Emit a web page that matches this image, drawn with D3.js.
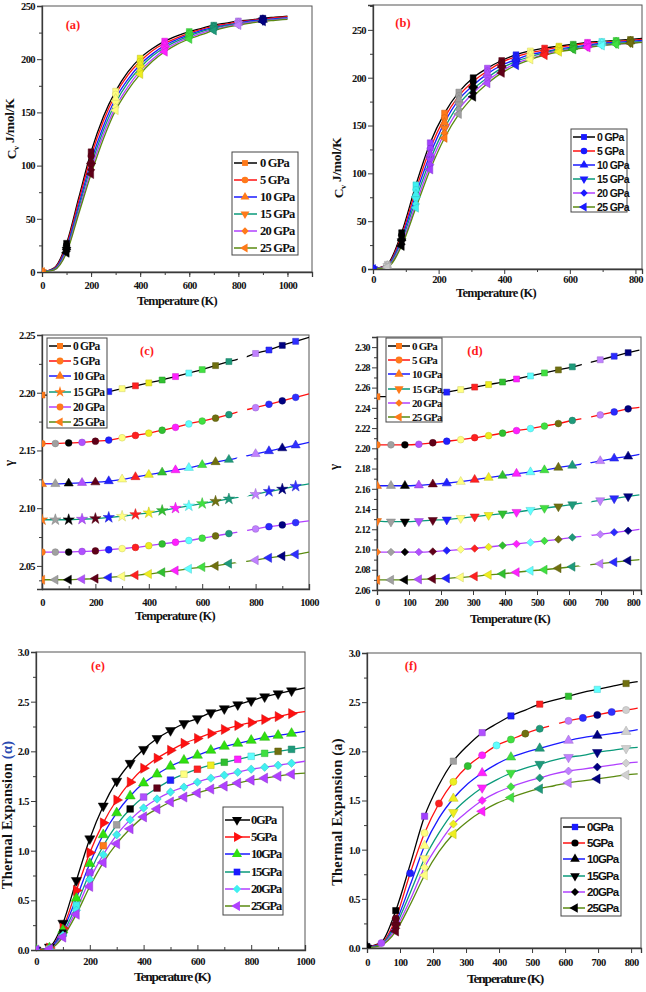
<!DOCTYPE html>
<html><head><meta charset="utf-8">
<script src="https://cdn.jsdelivr.net/npm/d3@7"></script>
<style>body{margin:0;background:#fff}svg{display:block}</style>
</head><body>
<script>
// ---------- DATA ----------
const pressures = ["0 GPa","5 GPa","10 GPa","15 GPa","20 GPa","25 GPa"];
const pressuresE = ["0GPa","5GPa","10GPa","15GPa","20GPa","25GPa"];
const lineColors = ["#000000","#ff1010","#1a1aff","#0a9a7a","#b040ff","#5a8a10"];
// Origin-style per-point colour increment list
const markerCycle = ["#1a1aff","#c8c8c8","#000000","#40f0f0","#a040ff","#ff7a1a","#a0a0a0","#000000",
  "#b050ff","#600018","#2020ff","#ffff80","#ff2020","#eeee20","#30c030","#ff20ff","#60ffff","#40e040",
  "#707010","#1e9a7a","#ffffff","#c080ff","#2a2aff","#000080","#3030ff","#d0d0d0"];

const tempA = [0,50,100,150,200,250,300,350,400,450,500,550,600,650,700,750,800,850,900,950,1000];
const cvA = [
  [0,4,27,70,113,146,170,188,201,210,217,222,226,229,232,234,236,237,238.5,239.5,240.5],
  [0,3.5,25,67,109,142,167,185,198,208,215,220,224.5,228,231,233,235,236.5,238,239,240],
  [0,3,23,63,104,137,163,181,195,205,213,218.5,223,227,230,232,234,236,237,238,239],
  [0,2.5,21,60,100,133,159,178,192,203,211,217,222,226,229,231.5,233.5,235,236.5,237.5,238.5],
  [0,2,19.5,57,96,129,155,174,189,200,209,215.5,220.5,224.5,228,230.5,233,234.5,236,237,238],
  [0,2,18,55,92,125,152,171,186,198,207,214,219,223,227,230,232,234,235.5,236.5,237.5]
];
const tempB = [0,43.6,87.2,130.8,174.4,218,261.6,305.2,348.8,392.4,436,479.6,523.2,566.8,610.4,654,697.6,741.2,784.8,820];
const cvB = [
  [0,5,38,88,132,163,185,200,210,218,224,228,231,233,235,237,238,239,240,241],
  [0,4,35,83,126,158,181,196,207,216,222,226,229,232,234,236,237,238,239,240],
  [0,3.5,32,78,120,153,177,192,204,213,219,224,227,230,232,234,236,237,238,239],
  [0,3,29,73,114,147,172,188,200,210,217,222,226,229,231,233,235,236,237,238],
  [0,2.5,26,68,109,142,167,184,197,207,215,220,224.5,228,230,232,234,235,236,237.5],
  [0,2,24,64,104,137,162,180,194,205,213,219,223.5,227,229.5,231.5,233.5,235,236,237]
];
const tempC = [0,50,100,150,200,250,300,350,400,450,500,550,600,650,700,750,800,850,900,950,1000];
const gammaC = [
  [2.198,2.198,2.198,2.199,2.1995,2.201,2.2035,2.206,2.2085,2.211,2.214,2.217,2.220,2.2235,2.227,2.230,2.234,2.237,2.241,2.2445,2.248],
  [2.156,2.156,2.1565,2.157,2.158,2.159,2.161,2.163,2.165,2.1675,2.170,2.173,2.1755,2.178,2.181,2.1845,2.187,2.190,2.193,2.196,2.199],
  [2.121,2.121,2.1215,2.122,2.1225,2.1235,2.125,2.127,2.129,2.131,2.133,2.135,2.1375,2.140,2.142,2.1445,2.147,2.1495,2.152,2.1545,2.157],
  [2.090,2.090,2.090,2.0905,2.091,2.092,2.093,2.0945,2.096,2.098,2.100,2.102,2.104,2.106,2.108,2.110,2.112,2.1145,2.1165,2.119,2.121],
  [2.062,2.062,2.062,2.0625,2.063,2.064,2.065,2.066,2.0675,2.069,2.0705,2.072,2.074,2.076,2.078,2.080,2.082,2.084,2.0855,2.0875,2.089],
  [2.038,2.038,2.038,2.0385,2.039,2.040,2.041,2.042,2.043,2.0445,2.046,2.0475,2.049,2.050,2.052,2.0535,2.055,2.057,2.0585,2.060,2.062]
];
const tempD = [0,43.6,87.2,130.8,174.4,218,261.6,305.2,348.8,392.4,436,479.6,523.2,566.8,610.4,654,697.6,741.2,784.8,820];
const gammaD = [
  [2.251,2.251,2.2515,2.252,2.253,2.2555,2.258,2.2605,2.263,2.2655,2.2685,2.2715,2.2745,2.2775,2.2805,2.284,2.2875,2.291,2.2945,2.297],
  [2.2035,2.2035,2.2035,2.204,2.2055,2.207,2.2085,2.2105,2.2125,2.215,2.2175,2.2195,2.222,2.2245,2.2275,2.230,2.233,2.236,2.239,2.2405],
  [2.163,2.163,2.163,2.1635,2.1645,2.1655,2.167,2.169,2.171,2.173,2.175,2.1765,2.1785,2.181,2.183,2.185,2.1875,2.190,2.192,2.194],
  [2.128,2.1275,2.1275,2.128,2.129,2.1295,2.131,2.1325,2.134,2.1355,2.137,2.139,2.141,2.1425,2.1445,2.1465,2.1485,2.1505,2.1525,2.154],
  [2.0975,2.0975,2.0975,2.0975,2.098,2.099,2.100,2.101,2.1025,2.104,2.1055,2.107,2.1085,2.110,2.112,2.1135,2.115,2.117,2.1185,2.120],
  [2.070,2.070,2.070,2.0705,2.071,2.0715,2.0725,2.0735,2.075,2.076,2.0775,2.079,2.080,2.0815,2.083,2.0845,2.086,2.0875,2.089,2.090]
];
const tempE = [0,50,100,150,200,250,300,350,400,450,500,550,600,650,700,750,800,850,900,950,1000];
const alphaE = [
  [0,0.03,0.27,0.70,1.12,1.45,1.70,1.88,2.02,2.13,2.21,2.28,2.33,2.39,2.43,2.47,2.51,2.55,2.58,2.61,2.64],
  [0,0.02,0.22,0.60,0.98,1.28,1.51,1.69,1.83,1.93,2.01,2.08,2.13,2.18,2.22,2.26,2.29,2.32,2.35,2.38,2.40],
  [0,0.02,0.20,0.52,0.87,1.16,1.38,1.55,1.68,1.77,1.85,1.91,1.96,2.01,2.05,2.08,2.11,2.14,2.16,2.18,2.20],
  [0,0.01,0.17,0.45,0.78,1.05,1.26,1.42,1.54,1.63,1.71,1.77,1.82,1.86,1.89,1.92,1.95,1.98,2.00,2.02,2.04],
  [0,0.01,0.15,0.40,0.71,0.96,1.16,1.31,1.43,1.52,1.59,1.64,1.69,1.73,1.76,1.79,1.82,1.84,1.86,1.88,1.90],
  [0,0.01,0.13,0.36,0.64,0.88,1.07,1.22,1.34,1.42,1.49,1.54,1.58,1.62,1.65,1.68,1.71,1.73,1.75,1.77,1.78]
];
const tempF = [0,43.6,87.2,130.8,174.4,218,261.6,305.2,348.8,392.4,436,479.6,523.2,566.8,610.4,654,697.6,741.2,784.8,820];
const alphaF = [
  [0.01,0.06,0.38,0.85,1.34,1.66,1.90,2.06,2.19,2.28,2.36,2.42,2.48,2.52,2.56,2.60,2.63,2.66,2.69,2.71],
  [0.01,0.05,0.30,0.76,1.17,1.47,1.69,1.85,1.96,2.06,2.12,2.18,2.23,2.27,2.31,2.34,2.37,2.40,2.42,2.44],
  [0.01,0.04,0.26,0.64,1.04,1.32,1.52,1.67,1.78,1.87,1.94,1.99,2.03,2.07,2.11,2.14,2.16,2.18,2.20,2.22],
  [0,0.04,0.23,0.56,0.91,1.17,1.38,1.52,1.63,1.71,1.78,1.83,1.87,1.91,1.94,1.96,1.99,2.01,2.03,2.04],
  [0,0.03,0.20,0.49,0.82,1.06,1.26,1.39,1.50,1.58,1.64,1.69,1.73,1.77,1.80,1.82,1.84,1.86,1.88,1.89],
  [0,0.03,0.17,0.44,0.74,0.98,1.16,1.29,1.39,1.47,1.53,1.58,1.62,1.65,1.68,1.70,1.72,1.74,1.76,1.77]
];

// ---------- DRAWING ----------
const W = 646, H = 992;
const svg = d3.select("body").append("svg").attr("width", W).attr("height", H);
const SERIF = "'Liberation Serif','Times New Roman',serif";
const SANS = "'Liberation Sans',Arial,sans-serif";

function symbolPath(shape, size) {
  const m = {square:[d3.symbolSquare,0,1], circle:[d3.symbolCircle,0,1], up:[d3.symbolTriangle,0,1],
    down:[d3.symbolTriangle,180,1], left:[d3.symbolTriangle,-90,1], right:[d3.symbolTriangle,90,1],
    diamond:[d3.symbolSquare,45,0.8], star:[d3.symbolStar,0,1.1]}[shape];
  return {d: d3.symbol().type(m[0]).size(size*m[2])(), rot: m[1]};
}

function drawPanel(c) {
  const g = svg.append("g");
  const x = d3.scaleLinear().domain(c.xDom).range([c.left, c.right]);
  const y = d3.scaleLinear().domain(c.yDom).range([c.bottom, c.top]);
  const axisCol = "#3a3a3a";
  // frame
  g.append("rect").attr("x", c.left).attr("y", c.top).attr("width", c.right - c.left)
    .attr("height", c.bottom - c.top).attr("fill", "none").attr("stroke", "#555").attr("stroke-width", 1);
  // x axis
  const xdir = c.xIn ? -1 : 1;
  const xa = g.append("g").attr("transform", `translate(0,${c.bottom})`)
    .call(d3.axisBottom(x).tickValues(c.xMinor).tickSize(3 * xdir).tickFormat(""));
  xa.select(".domain").remove();
  const xb = g.append("g").attr("transform", `translate(0,${c.bottom})`)
    .call(d3.axisBottom(x).tickValues(c.xTicks).tickSize(5 * xdir).tickPadding(c.xPad).tickFormat(d3.format("d")));
  xb.select(".domain").attr("stroke", axisCol).attr("stroke-width", 1.3);
  [xa, xb].forEach(a => a.selectAll("line").attr("stroke", axisCol));
  xb.selectAll("text").attr("font-family", SERIF).attr("font-weight", "bold").attr("font-size", c.tickFs)
    .attr("letter-spacing", "-0.6px").attr("fill", "#111").attr("dy", "0.71em");
  if (c.xIn) xb.selectAll("text").attr("y", c.xPad);
  // y axis
  const ya = g.append("g").attr("transform", `translate(${c.left},0)`)
    .call(d3.axisLeft(y).tickValues(c.yMinor).tickSize(3).tickFormat(""));
  ya.select(".domain").remove();
  const yb = g.append("g").attr("transform", `translate(${c.left},0)`)
    .call(d3.axisLeft(y).tickValues(c.yTicks).tickSize(5).tickPadding(2).tickFormat(d3.format(c.yFmt)));
  yb.select(".domain").attr("stroke", axisCol).attr("stroke-width", 1.3);
  [ya, yb].forEach(a => a.selectAll("line").attr("stroke", axisCol));
  yb.selectAll("text").attr("font-family", SERIF).attr("font-weight", "bold").attr("font-size", c.tickFs)
    .attr("letter-spacing", "-0.6px").attr("fill", "#111");

  // lines
  const clipId = "clip" + c.id;
  g.append("clipPath").attr("id", clipId).append("rect")
    .attr("x", c.left).attr("y", c.top).attr("width", c.right - c.left).attr("height", c.bottom - c.top);
  const plot = g.append("g").attr("clip-path", `url(#${clipId})`);
  const line = d3.line().x((d, i) => x(c.T[i])).y(d => y(d)).curve(d3.curveMonotoneX);
  c.Y.forEach((s, k) => {
    plot.append("path").attr("d", line(s)).attr("fill", "none")
      .attr("stroke", lineColors[k]).attr("stroke-width", 1.3);
  });
  // markers
  c.Y.forEach((s, k) => {
    s.forEach((v, i) => {
      if (!c.showMarker(k, i)) return;
      const col = c.markerColor(k, i);
      const sp = symbolPath(c.shapes[k], c.msize);
      const white = col === "#ffffff";
      plot.append("path").attr("d", sp.d)
        .attr("fill", col).attr("stroke", white ? "none" : d3.color(col).darker(0.6))
        .attr("stroke-width", white ? 0 : 0.5)
        .attr("transform", `translate(${x(c.T[i])},${y(v)}) rotate(${sp.rot}) scale(${white ? 1.5 : 1})`);
    });
  });

  // legend
  const L = c.legend;
  g.append("rect").attr("x", L.x0).attr("y", L.y0).attr("width", L.x1 - L.x0).attr("height", L.y1 - L.y0)
    .attr("fill", "#fff").attr("stroke", "#444").attr("stroke-width", 1);
  L.rows.forEach((ry, k) => {
    g.append("line").attr("x1", L.lx0).attr("x2", L.lx1).attr("y1", ry).attr("y2", ry)
      .attr("stroke", lineColors[k]).attr("stroke-width", 1.5);
    const sp = symbolPath(c.shapes[k], c.msize);
    g.append("path").attr("d", sp.d).attr("transform", `translate(${L.mx},${ry}) rotate(${sp.rot})`)
      .attr("fill", L.mcol(k));
    g.append("text").attr("x", L.tx).attr("y", ry).attr("dy", "0.35em").text(L.labels[k])
      .attr("font-family", L.font).attr("font-weight", "bold").attr("font-size", L.fs)
      .attr("letter-spacing", L.ls).attr("fill", "#111");
  });

  // panel tag
  g.append("text").attr("x", c.tag[0]).attr("y", c.tag[1]).attr("text-anchor", "middle")
    .attr("font-family", SERIF).attr("font-weight", "bold").attr("font-size", 12.5)
    .attr("fill", "#ff1a1a").text(c.tagText);

  // x title
  g.append("text").attr("x", c.xt[0]).attr("y", c.xt[1]).attr("text-anchor", "middle")
    .attr("font-family", SERIF).attr("font-weight", "bold").attr("font-size", c.xtFs)
    .attr("letter-spacing", c.xtLs).attr("fill", "#111").text(c.xTitle);
  // y title
  const yt = g.append("text").attr("transform", `translate(${c.yt[0]},${c.yt[1]}) rotate(-90)`)
    .attr("text-anchor", "middle").attr("font-family", SERIF).attr("font-weight", "bold")
    .attr("font-size", c.ytFs).attr("letter-spacing", c.ytLs).attr("fill", "#111");
  c.yTitle(yt);
}

const rng = (a, b, s) => d3.range(a, b + s / 2, s);
const cvTitle = t => { t.append("tspan").text("C"); t.append("tspan").attr("font-size", "0.6em").attr("dy", "0.35em").text("v");
  t.append("tspan").attr("dy", "-0.35em").text(" J/mol/K"); };

// (a)
drawPanel({id: "a", left: 42, right: 312, top: 6, bottom: 272, xDom: [0, 1100], yDom: [0, 250],
  xTicks: rng(0, 1000, 200), xMinor: rng(100, 1100, 100), yTicks: rng(0, 250, 50), yMinor: rng(25, 225, 50),
  yFmt: "d", xIn: false, xPad: 5, tickFs: 10.5, T: tempA, Y: cvA,
  shapes: ["square", "circle", "up", "down", "diamond", "left"], msize: 34,
  showMarker: (k, i) => i % 2 === 0 && i <= 18, markerColor: (k, i) => markerCycle[i + 5],
  legend: {x0: 232, x1: 298, y0: 152, y1: 255, rows: [163, 180, 197, 214, 231, 248], lx0: 234, lx1: 257, mx: 245, tx: 260,
    labels: pressures, font: SERIF, fs: 12.5, ls: "-0.8px", mcol: k => markerCycle[5]},
  tag: [73, 29], tagText: "(a)", xt: [177, 305], xTitle: "Temperature (K)", xtFs: 12.5, xtLs: "-0.7px",
  yt: [16, 129], ytFs: 13.5, ytLs: "-0.3px", yTitle: cvTitle});

// (b)
drawPanel({id: "b", left: 373, right: 642, top: 5, bottom: 269, xDom: [0, 820], yDom: [0, 276],
  xTicks: rng(0, 800, 200), xMinor: rng(100, 700, 200), yTicks: rng(0, 250, 50), yMinor: rng(25, 275, 50),
  yFmt: "d", xIn: false, xPad: 2, tickFs: 10.5, T: tempB, Y: cvB,
  shapes: ["square", "circle", "up", "down", "diamond", "left"], msize: 34,
  showMarker: (k, i) => i <= 18, markerColor: (k, i) => markerCycle[i],
  legend: {x0: 571, x1: 627, y0: 129, y1: 212, rows: [137, 151, 165, 179, 193, 207], lx0: 573, lx1: 595, mx: 584, tx: 597,
    labels: pressures, font: SANS, fs: 10.5, ls: "-0.6px", mcol: k => markerCycle[0]},
  tag: [403, 27], tagText: "(b)", xt: [496, 297], xTitle: "Temperature (K)", xtFs: 12.5, xtLs: "-0.7px",
  yt: [343, 168], ytFs: 13.5, ytLs: "-0.3px", yTitle: cvTitle});

// (c)
drawPanel({id: "c", left: 42, right: 309, top: 335, bottom: 589, xDom: [0, 1000], yDom: [2.03, 2.25],
  xTicks: rng(0, 1000, 200), xMinor: rng(100, 900, 200), yTicks: rng(2.05, 2.25, 0.05), yMinor: rng(2.075, 2.225, 0.05).concat([2.0375]),
  yFmt: ".2f", xIn: true, xPad: 10, tickFs: 10.5, T: tempC, Y: gammaC,
  shapes: ["square", "circle", "up", "star", "circle", "left"], msize: 36,
  showMarker: (k, i) => i <= 19, markerColor: (k, i) => markerCycle[i + 5],
  legend: {x0: 47, x1: 107, y0: 338, y1: 428, rows: [346, 361, 376, 392, 407, 422], lx0: 49, lx1: 71, mx: 60, tx: 73,
    labels: pressures, font: SERIF, fs: 11.5, ls: "-0.8px", mcol: k => markerCycle[5]},
  tag: [147, 355], tagText: "(c)", xt: [175, 620], xTitle: "Temperature (K)", xtFs: 12.5, xtLs: "-0.7px",
  yt: [13, 463], ytFs: 13, ytLs: "0px", yTitle: t => t.text("γ")});

// (d)
drawPanel({id: "d", left: 377, right: 641, top: 337, bottom: 590, xDom: [0, 825], yDom: [2.06, 2.31],
  xTicks: rng(0, 800, 100), xMinor: [], yTicks: rng(2.06, 2.30, 0.02), yMinor: rng(2.07, 2.30, 0.02),
  yFmt: ".2f", xIn: false, xPad: 4, tickFs: 10, T: tempD, Y: gammaD,
  shapes: ["square", "circle", "up", "down", "diamond", "left"], msize: 36,
  showMarker: (k, i) => i <= 18, markerColor: (k, i) => markerCycle[i + 5],
  legend: {x0: 386, x1: 442, y0: 338, y1: 422, rows: [346, 360, 374, 389, 403, 417], lx0: 388, lx1: 410, mx: 399, tx: 412,
    labels: pressures, font: SERIF, fs: 11, ls: "-0.8px", mcol: k => markerCycle[5]},
  tag: [475, 355], tagText: "(d)", xt: [510, 623], xTitle: "Temperature (K)", xtFs: 12.5, xtLs: "-0.7px",
  yt: [338, 467], ytFs: 13, ytLs: "0px", yTitle: t => t.text("γ")});

// (e)
const eCols = ["#000000", "#ff1010", "#30e010", null, "#40f0f0", "#b040ff"];
drawPanel({id: "e", left: 36, right: 305, top: 652, bottom: 950, xDom: [0, 1000], yDom: [0, 3],
  xTicks: rng(0, 1000, 200), xMinor: rng(100, 900, 200), yTicks: rng(0, 3, 0.5), yMinor: rng(0.25, 2.75, 0.5),
  yFmt: ".1f", xIn: true, xPad: 8, tickFs: 10.5, T: tempE, Y: alphaE,
  shapes: ["down", "right", "up", "square", "diamond", "left"], msize: 44,
  showMarker: (k, i) => i <= 19, markerColor: (k, i) => eCols[k] || markerCycle[i],
  legend: {x0: 223, x1: 283, y0: 807, y1: 915, rows: [820, 837, 854, 872, 889, 906], lx0: 225, lx1: 250, mx: 237, tx: 251,
    labels: pressuresE, font: SERIF, fs: 12.5, ls: "-1.2px", mcol: k => eCols[k] || "#1a1aff"},
  tag: [98, 670], tagText: "(e)", xt: [172, 981], xTitle: "Tenperature (K)", xtFs: 13.5, xtLs: "-1.2px",
  yt: [12, 815], ytFs: 14.5, ytLs: "0.2px",
  yTitle: t => { t.append("tspan").text("Thermal Expansion "); t.append("tspan").attr("fill", "#2a4ab0").text("(α)"); }});

// (f)
drawPanel({id: "f", left: 367, right: 641, top: 653, bottom: 948, xDom: [0, 830], yDom: [0, 3],
  xTicks: rng(0, 800, 100), xMinor: [], yTicks: rng(0, 3, 0.5), yMinor: rng(0.25, 2.75, 0.5),
  yFmt: ".1f", xIn: false, xPad: 6, tickFs: 10.5, T: tempF, Y: alphaF,
  shapes: ["square", "circle", "up", "down", "diamond", "left"], msize: 40,
  showMarker: (k, i) => (k === 1 ? i <= 18 : i % 2 === 0 && i <= 18),
  markerColor: (k, i) => markerCycle[k === 0 ? i : i + 7],
  legend: {x0: 561, x1: 621, y0: 818, y1: 916, rows: [827, 843, 859, 876, 892, 908], lx0: 563, lx1: 585, mx: 575, tx: 587,
    labels: pressuresE, font: SANS, fs: 11.5, ls: "-0.9px", mcol: k => k === 0 ? markerCycle[0] : "#000000"},
  tag: [411, 670], tagText: "(f)", xt: [505, 983], xTitle: "Tenperature (K)", xtFs: 13.5, xtLs: "-1.2px",
  yt: [342, 812], ytFs: 14.5, ytLs: "0.2px",
  yTitle: t => t.text("Thermal Expansion (a)")});
</script>
</body></html>
